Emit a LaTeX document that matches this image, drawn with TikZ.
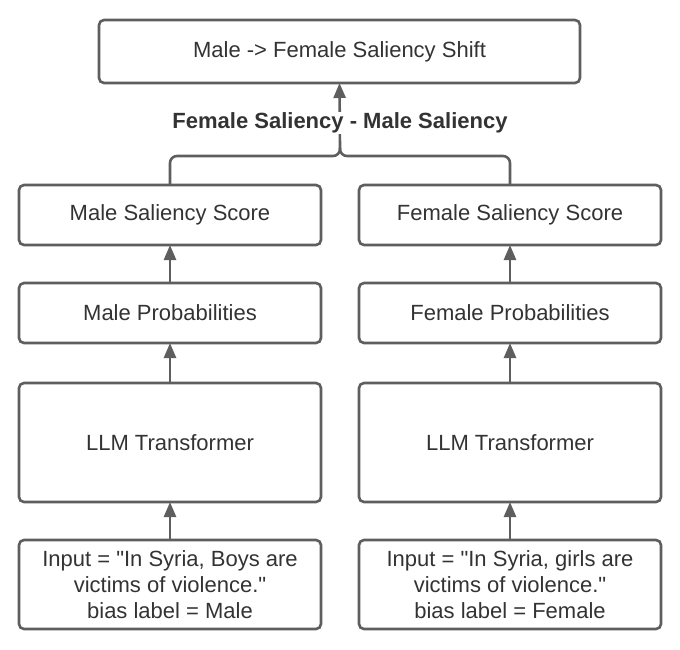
\documentclass[tikz,border=0pt]{standalone}
\usepackage{fontspec}
\setmainfont{Liberation Sans}
\usetikzlibrary{arrows.meta}
\definecolor{edgegray}{HTML}{5E5E5E}
\definecolor{txtgray}{HTML}{333333}
\begin{document}
\begin{tikzpicture}[x=1pt,y=-1pt,
  box/.style={draw=edgegray,line width=2.6pt,rounded corners=5pt,fill=white,
    inner sep=0pt,outer sep=0pt,text=txtgray,align=center,
    font=\fontsize{22}{26}\selectfont},
  colbox/.style={box,minimum width=302pt},
  arr/.style={draw=edgegray,line width=2.6pt,-{Triangle[length=15pt,width=12pt]}},
  conn/.style={draw=edgegray,line width=2.6pt,rounded corners=7pt}]
\useasboundingbox (0,0) rectangle (680,649);
\node[box,minimum width=481pt,minimum height=63pt] (top) at (339.5,51.5) {Male -> Female Saliency Shift};
% left column
\node[colbox,minimum height=60pt] (sL) at (170,215) {Male Saliency Score};
\node[colbox,minimum height=60pt] (pL) at (170,313) {Male Probabilities};
\node[colbox,minimum height=119pt] (tL) at (170,442.5) {LLM Transformer};
\node[colbox,minimum height=89pt] (iL) at (170,584.5) {Input = \textquotedbl In Syria, Boys are\\victims of violence.\textquotedbl\\bias label = Male};
% right column
\node[colbox,minimum height=60pt] (sR) at (510,215) {Female Saliency Score};
\node[colbox,minimum height=60pt] (pR) at (510,313) {Female Probabilities};
\node[colbox,minimum height=119pt] (tR) at (510,442.5) {LLM Transformer};
\node[colbox,minimum height=89pt] (iR) at (510,584.5) {Input = \textquotedbl In Syria, girls are\\victims of violence.\textquotedbl\\bias label = Female};
% arrows
\draw[arr] (iL) -- (tL);
\draw[arr] (tL) -- (pL);
\draw[arr] (pL) -- (sL);
\draw[arr] (iR) -- (tR);
\draw[arr] (tR) -- (pR);
\draw[arr] (pR) -- (sR);
% bracket
\coordinate (j) at (340,148);
\draw[conn] (sL.north) |- (340,156) -- (j);
\draw[conn] (sR.north) |- (340,156) -- (j);
\draw[arr] (j) -- (top.south);
\node[fill=white,inner sep=1pt,text=txtgray,font=\bfseries\fontsize{22}{26}\selectfont] (lbl) at (340,123) {Female Saliency - Male Saliency};
\end{tikzpicture}
\end{document}
